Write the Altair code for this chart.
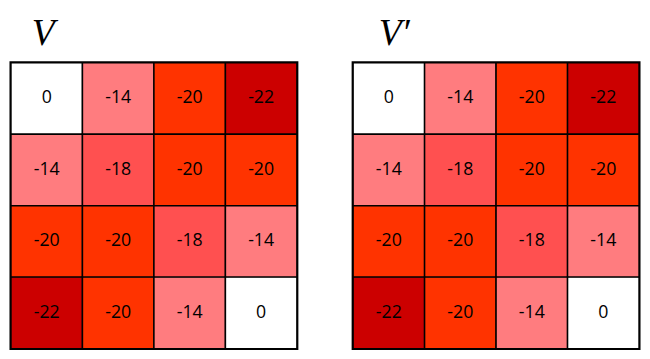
import altair as alt
import pandas as pd

rows = [0, 1, 2, 3]
cols = [0, 1, 2, 3]
v_values = [
    [0, -14, -20, -22],
    [-14, -18, -20, -20],
    [-20, -20, -18, -14],
    [-22, -20, -14, 0],
]
vp_values = [
    [0, -14, -20, -22],
    [-14, -18, -20, -20],
    [-20, -20, -18, -14],
    [-22, -20, -14, 0],
]
levels = [0, -14, -18, -20, -22]
colors = ["#ffffff", "#ff7c7f", "#ff5050", "#ff3300", "#cc0000"]
titles = ["V", "V\u2032"]


def make_df(mat):
    recs = []
    for r in rows:
        for c in cols:
            recs.append({"row": r, "col": c, "val": mat[r][c], "label": str(mat[r][c])})
    return pd.DataFrame(recs)


def panel(mat, title, tx):
    df = make_df(mat)
    base = alt.Chart(df).encode(
        x=alt.X("col:O", axis=None, scale=alt.Scale(paddingInner=0, paddingOuter=0)),
        y=alt.Y("row:O", axis=None, scale=alt.Scale(paddingInner=0, paddingOuter=0)),
    )
    rect = base.mark_rect(stroke="black", strokeWidth=1.5).encode(
        color=alt.Color("val:O", scale=alt.Scale(domain=levels, range=colors), legend=None)
    )
    txt = base.mark_text(font="Open Sans", fontSize=18, color="black").encode(
        text="label:N"
    )
    ttl = alt.Chart(pd.DataFrame({"t": [title]})).mark_text(
        font="Liberation Serif", fontStyle="italic", fontSize=38, align="left",
        baseline="top", color="black"
    ).encode(text="t:N", x=alt.value(tx), y=alt.value(-47.5))
    return alt.layer(rect, txt, ttl).properties(width=290, height=290)


chart = alt.hconcat(
    panel(v_values, titles[0], 21), panel(vp_values, titles[1], 26), spacing=51
).properties(
    padding={"left": 0, "top": 4, "right": 0, "bottom": 0},
).configure_view(stroke="black", strokeWidth=3)

chart.save("out.html", embed_options={"renderer": "svg", "actions": False})
